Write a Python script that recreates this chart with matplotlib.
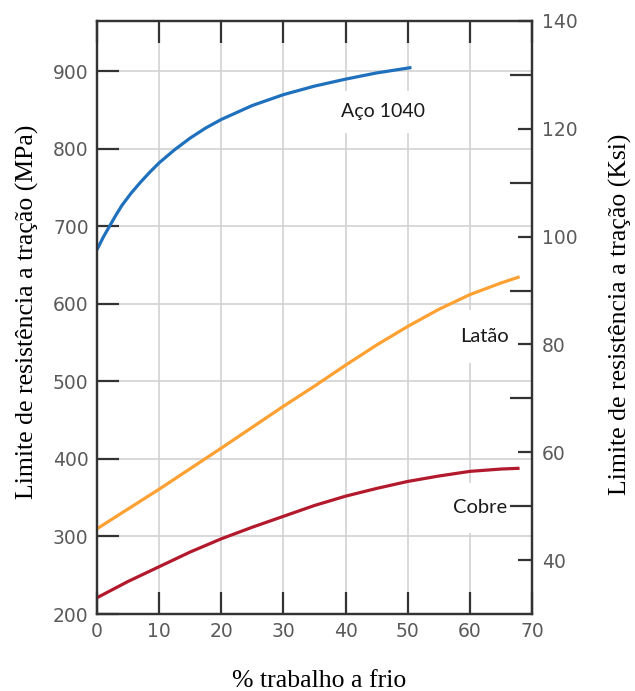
import numpy as np
import matplotlib
matplotlib.use("Agg")
import matplotlib.pyplot as plt

# cold work (%) vs tensile strength (MPa)
aco_x = [0, 1, 2, 3, 4, 5.5, 7, 8.5, 10, 12.5, 15, 17.5, 20, 25, 30, 35, 40, 45, 50.6]
aco_y = [670, 686, 700, 714, 727, 743, 757, 770, 782, 799, 814, 827, 838, 856, 870,
         881, 890, 898, 905]

latao_x = [0, 10, 20, 30, 35, 40, 45, 50, 55, 60, 65, 68]
latao_y = [310, 361, 414, 468, 494, 521, 547, 571, 593, 612, 627, 635]

cobre_x = [0, 5, 10, 15, 20, 25, 30, 35, 40, 45, 50, 55, 60, 65, 68]
cobre_y = [221, 242, 261, 280, 297, 312, 326, 340, 352, 362, 371, 378, 384, 387, 388]

x_ticks = [0, 10, 20, 30, 40, 50, 60, 70]
mpa_ticks = [200, 300, 400, 500, 600, 700, 800, 900]
ksi_ticks = [40, 60, 80, 100, 120, 140]
ksi_minor = [50, 70, 90, 110, 130]

tick_color = "#333333"
label_color = "#5a5a5a"

fig = plt.figure(figsize=(6.35, 6.91), dpi=100, facecolor="w")
ax = fig.add_axes([97 / 635, 77 / 691, 435 / 635, 593 / 691])

ax.plot(aco_x, aco_y, color="#1f70bd", lw=2.3, zorder=4, solid_capstyle="butt")
ax.plot(latao_x, latao_y, color="#ffa033", lw=2.3, zorder=4, solid_capstyle="butt")
ax.plot(cobre_x, cobre_y, color="#b3192d", lw=2.3, zorder=4, solid_capstyle="butt")

ax.set_xlim(0, 70)
ax.set_ylim(200, 965)
ax.set_xticks(x_ticks)
ax.set_yticks(mpa_ticks)
ax.set_axisbelow(True)
ax.grid(True, color="#d2d2d2", lw=1.2)

ax.tick_params(axis="x", which="major", direction="in", top=True, length=16,
               width=1.6, color=tick_color, pad=6, labelsize=13.5,
               labelcolor=label_color)
ax.tick_params(axis="y", which="major", direction="in", length=16, width=1.6,
               color=tick_color, pad=6, labelsize=13.5, labelcolor=label_color)
for sp in ax.spines.values():
    sp.set_color(tick_color)
    sp.set_linewidth(1.6)

# right axis in Ksi
ax2 = ax.twinx()
ax2.set_ylim(30, 140)
ax2.set_yticks(ksi_ticks)
ax2.yaxis.set_minor_locator(plt.FixedLocator(ksi_minor))
ax2.tick_params(axis="y", which="major", direction="in", length=10, width=1.6,
                color=tick_color, pad=7, labelsize=13.5, labelcolor=label_color)
ax2.tick_params(axis="y", which="minor", direction="in", length=16, width=1.6,
                color=tick_color)
for sp in ax2.spines.values():
    sp.set_color(tick_color)
    sp.set_linewidth(1.6)

# curve names
box = dict(facecolor="white", edgecolor="none")
ax.text(46.1, 841, "Aço 1040", family="Lato", fontsize=14, color="#1a1a1a",
        ha="center", va="baseline", zorder=3, bbox=dict(box, pad=9))
ax.text(62.3, 551, "Latão", family="Lato", fontsize=14.5, color="#1a1a1a",
        ha="center", va="baseline", zorder=3, bbox=dict(box, pad=13))
ax.text(61.7, 330, "Cobre", family="Lato", fontsize=14.5, color="#1a1a1a",
        ha="center", va="baseline", zorder=3, bbox=dict(box, pad=12))

serif = "Liberation Serif"
fig.text(27 / 635, 1 - 312 / 691, "Limite de resistência a tração (MPa)",
         family=serif, fontsize=18.5, rotation=90, ha="center", va="center")
fig.text(620 / 635, 1 - 314 / 691, "Limite de resistência a tração (Ksi)",
         family=serif, fontsize=18.5, rotation=90, ha="center", va="center")
fig.text(319 / 635, 4 / 691, "% trabalho a frio", family=serif, fontsize=18.5,
         ha="center", va="baseline")

fig.savefig("out.png", dpi=100, facecolor="w")
